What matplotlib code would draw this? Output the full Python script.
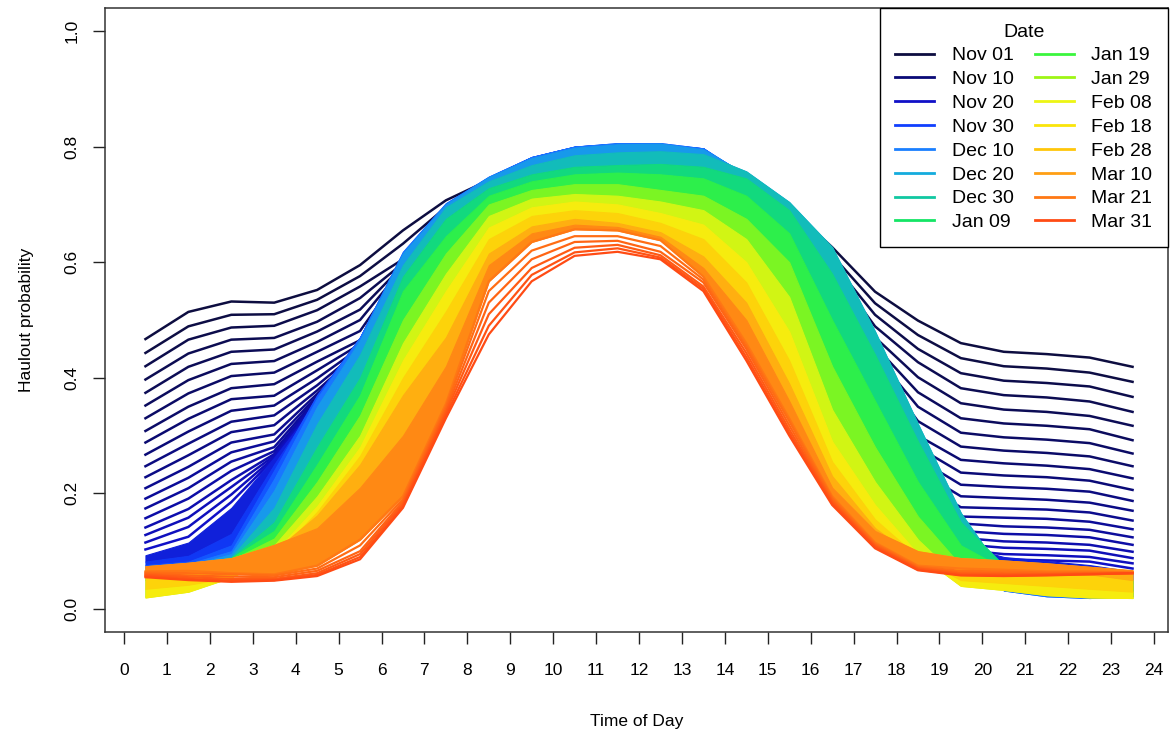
import matplotlib.pyplot as plt
import numpy as np
from matplotlib.colors import LinearSegmentedColormap
from matplotlib.lines import Line2D

plt.rcParams['font.family'] = ['Liberation Sans', 'DejaVu Sans']

# hour midpoints of the day
hours = np.arange(0.5, 24, 1.0)

# days counted from Nov 01; first 20 days drawn as separate lines
navy_days = list(range(20))
# one list per hour (0.5 ... 23.5), each with the value for day 0..19
navy_by_hour = [
    [0.467, 0.443, 0.420, 0.397, 0.374, 0.352, 0.330, 0.308, 0.288, 0.267, 0.247, 0.228, 0.209, 0.191, 0.174, 0.157, 0.141, 0.128, 0.115, 0.103],
    [0.514, 0.489, 0.466, 0.442, 0.419, 0.396, 0.373, 0.350, 0.329, 0.307, 0.286, 0.266, 0.246, 0.227, 0.209, 0.191, 0.173, 0.158, 0.142, 0.125],
    [0.532, 0.509, 0.487, 0.466, 0.445, 0.424, 0.403, 0.382, 0.363, 0.343, 0.324, 0.306, 0.288, 0.271, 0.255, 0.239, 0.223, 0.211, 0.198, 0.185],
    [0.530, 0.510, 0.490, 0.469, 0.449, 0.429, 0.409, 0.389, 0.369, 0.352, 0.335, 0.318, 0.302, 0.290, 0.280, 0.273, 0.268, 0.265, 0.262, 0.260],
    [0.552, 0.535, 0.517, 0.497, 0.480, 0.462, 0.445, 0.428, 0.413, 0.399, 0.387, 0.378, 0.372, 0.368, 0.365, 0.362, 0.360, 0.358, 0.356, 0.355],
    [0.595, 0.576, 0.558, 0.538, 0.518, 0.500, 0.481, 0.465, 0.458, 0.452, 0.448, 0.445, 0.443, 0.441, 0.440, 0.439, 0.438, 0.437, 0.436, 0.435],
    [0.655, 0.632, 0.605, 0.598, 0.594, 0.590, 0.586, 0.582, 0.578, 0.574, 0.570, 0.566, 0.562, 0.558, 0.554, 0.550, 0.546, 0.542, 0.538, 0.534],
    [0.707, 0.695, 0.688, 0.684, 0.680, 0.677, 0.674, 0.671, 0.668, 0.665, 0.662, 0.660, 0.658, 0.656, 0.654, 0.652, 0.650, 0.648, 0.646, 0.644],
    [0.742, 0.738, 0.735, 0.732, 0.730, 0.728, 0.726, 0.724, 0.722, 0.720, 0.718, 0.716, 0.714, 0.712, 0.710, 0.708, 0.706, 0.704, 0.702, 0.700],
    [0.775, 0.772, 0.770, 0.768, 0.766, 0.764, 0.762, 0.760, 0.758, 0.756, 0.754, 0.752, 0.750, 0.748, 0.746, 0.744, 0.742, 0.740, 0.738, 0.736],
    [0.792, 0.790, 0.788, 0.786, 0.784, 0.782, 0.780, 0.778, 0.776, 0.774, 0.772, 0.770, 0.768, 0.766, 0.764, 0.762, 0.760, 0.758, 0.756, 0.754],
    [0.798, 0.796, 0.794, 0.792, 0.790, 0.788, 0.786, 0.784, 0.782, 0.780, 0.778, 0.776, 0.774, 0.772, 0.770, 0.768, 0.766, 0.764, 0.762, 0.760],
    [0.798, 0.796, 0.794, 0.792, 0.790, 0.788, 0.786, 0.784, 0.782, 0.780, 0.778, 0.776, 0.774, 0.772, 0.770, 0.768, 0.766, 0.764, 0.762, 0.760],
    [0.788, 0.786, 0.784, 0.782, 0.780, 0.778, 0.776, 0.774, 0.772, 0.770, 0.768, 0.766, 0.764, 0.762, 0.760, 0.758, 0.756, 0.754, 0.752, 0.750],
    [0.748, 0.746, 0.744, 0.742, 0.740, 0.738, 0.736, 0.734, 0.732, 0.730, 0.728, 0.726, 0.724, 0.722, 0.720, 0.718, 0.716, 0.714, 0.712, 0.710],
    [0.695, 0.690, 0.685, 0.680, 0.675, 0.670, 0.665, 0.660, 0.655, 0.650, 0.645, 0.640, 0.635, 0.630, 0.625, 0.620, 0.615, 0.610, 0.605, 0.600],
    [0.626, 0.612, 0.600, 0.590, 0.580, 0.570, 0.560, 0.550, 0.540, 0.530, 0.520, 0.510, 0.500, 0.490, 0.480, 0.470, 0.460, 0.450, 0.440, 0.430],
    [0.549, 0.529, 0.509, 0.489, 0.470, 0.455, 0.440, 0.425, 0.410, 0.395, 0.380, 0.365, 0.350, 0.335, 0.320, 0.305, 0.290, 0.275, 0.260, 0.245],
    [0.499, 0.474, 0.450, 0.427, 0.401, 0.375, 0.350, 0.325, 0.300, 0.280, 0.260, 0.240, 0.220, 0.200, 0.185, 0.170, 0.160, 0.150, 0.140, 0.130],
    [0.460, 0.434, 0.408, 0.382, 0.356, 0.330, 0.305, 0.281, 0.258, 0.236, 0.215, 0.195, 0.176, 0.160, 0.148, 0.135, 0.123, 0.112, 0.102, 0.095],
    [0.445, 0.420, 0.395, 0.370, 0.345, 0.321, 0.297, 0.274, 0.252, 0.231, 0.211, 0.192, 0.174, 0.158, 0.143, 0.130, 0.117, 0.106, 0.095, 0.086],
    [0.441, 0.416, 0.391, 0.366, 0.341, 0.317, 0.293, 0.270, 0.248, 0.228, 0.208, 0.189, 0.172, 0.156, 0.141, 0.128, 0.115, 0.104, 0.093, 0.084],
    [0.435, 0.409, 0.385, 0.359, 0.334, 0.311, 0.287, 0.264, 0.242, 0.222, 0.203, 0.184, 0.167, 0.151, 0.137, 0.124, 0.111, 0.101, 0.090, 0.082],
    [0.419, 0.393, 0.367, 0.341, 0.317, 0.292, 0.269, 0.247, 0.226, 0.206, 0.187, 0.170, 0.153, 0.138, 0.124, 0.111, 0.099, 0.088, 0.079, 0.070],
]

# later days: dense band, one row per day (hours 0.5 ... 23.5)
band_days = [20, 25, 30, 35, 40, 50, 60, 70, 80, 90, 100, 110, 120, 130, 140]
band_curves = [
    [0.093, 0.115, 0.175, 0.262, 0.357, 0.440, 0.570, 0.680, 0.735, 0.770, 0.785, 0.790, 0.790, 0.780, 0.735, 0.620, 0.480, 0.340, 0.200, 0.110, 0.090, 0.083, 0.076, 0.065],
    [0.082, 0.092, 0.130, 0.250, 0.360, 0.460, 0.600, 0.695, 0.745, 0.778, 0.795, 0.800, 0.800, 0.790, 0.740, 0.640, 0.520, 0.370, 0.220, 0.100, 0.060, 0.050, 0.045, 0.045],
    [0.076, 0.082, 0.110, 0.240, 0.370, 0.470, 0.615, 0.700, 0.747, 0.782, 0.800, 0.805, 0.804, 0.797, 0.745, 0.660, 0.550, 0.400, 0.240, 0.100, 0.035, 0.025, 0.022, 0.028],
    [0.073, 0.078, 0.100, 0.225, 0.365, 0.470, 0.618, 0.702, 0.748, 0.782, 0.800, 0.806, 0.806, 0.797, 0.750, 0.675, 0.570, 0.420, 0.260, 0.120, 0.032, 0.022, 0.019, 0.022],
    [0.071, 0.075, 0.095, 0.205, 0.350, 0.465, 0.615, 0.700, 0.747, 0.780, 0.798, 0.804, 0.805, 0.795, 0.752, 0.690, 0.600, 0.450, 0.290, 0.140, 0.040, 0.030, 0.028, 0.028],
    [0.068, 0.073, 0.090, 0.175, 0.320, 0.440, 0.595, 0.695, 0.740, 0.768, 0.785, 0.790, 0.792, 0.787, 0.757, 0.704, 0.626, 0.480, 0.320, 0.166, 0.060, 0.050, 0.045, 0.040],
    [0.066, 0.072, 0.088, 0.150, 0.280, 0.400, 0.575, 0.675, 0.728, 0.752, 0.765, 0.768, 0.770, 0.765, 0.745, 0.690, 0.580, 0.440, 0.290, 0.150, 0.075, 0.065, 0.060, 0.050],
    [0.062, 0.070, 0.088, 0.135, 0.250, 0.370, 0.550, 0.645, 0.715, 0.740, 0.752, 0.755, 0.752, 0.745, 0.715, 0.650, 0.500, 0.360, 0.220, 0.110, 0.070, 0.060, 0.055, 0.045],
    [0.050, 0.062, 0.085, 0.122, 0.220, 0.335, 0.500, 0.615, 0.700, 0.725, 0.735, 0.735, 0.725, 0.715, 0.675, 0.600, 0.420, 0.280, 0.160, 0.075, 0.055, 0.045, 0.040, 0.030],
    [0.022, 0.035, 0.065, 0.110, 0.195, 0.300, 0.460, 0.580, 0.680, 0.710, 0.718, 0.715, 0.705, 0.690, 0.640, 0.540, 0.345, 0.220, 0.120, 0.050, 0.040, 0.030, 0.025, 0.020],
    [0.020, 0.030, 0.055, 0.097, 0.178, 0.280, 0.430, 0.550, 0.660, 0.695, 0.705, 0.700, 0.685, 0.665, 0.600, 0.480, 0.290, 0.180, 0.095, 0.040, 0.033, 0.024, 0.020, 0.019],
    [0.035, 0.042, 0.055, 0.090, 0.168, 0.265, 0.400, 0.515, 0.640, 0.680, 0.690, 0.685, 0.668, 0.640, 0.565, 0.430, 0.255, 0.155, 0.090, 0.050, 0.045, 0.040, 0.035, 0.030],
    [0.055, 0.060, 0.070, 0.100, 0.162, 0.250, 0.370, 0.470, 0.615, 0.662, 0.675, 0.668, 0.652, 0.610, 0.530, 0.390, 0.230, 0.140, 0.085, 0.070, 0.070, 0.065, 0.060, 0.050],
    [0.074, 0.080, 0.088, 0.111, 0.140, 0.210, 0.300, 0.420, 0.595, 0.650, 0.665, 0.661, 0.644, 0.590, 0.500, 0.360, 0.210, 0.135, 0.100, 0.088, 0.084, 0.079, 0.073, 0.067],
    [0.065, 0.066, 0.062, 0.060, 0.075, 0.120, 0.195, 0.355, 0.567, 0.635, 0.657, 0.655, 0.638, 0.575, 0.460, 0.330, 0.195, 0.115, 0.075, 0.070, 0.068, 0.065, 0.065, 0.063],
]

# last days of March, separate lines at the bottom edge
edge_days = [142, 144, 146, 148, 150]
edge_curves = [
    [0.063, 0.062, 0.060, 0.058, 0.070, 0.110, 0.190, 0.350, 0.550, 0.620, 0.645, 0.645, 0.628, 0.570, 0.455, 0.325, 0.192, 0.113, 0.073, 0.066, 0.065, 0.063, 0.063, 0.063],
    [0.061, 0.058, 0.056, 0.055, 0.066, 0.100, 0.186, 0.345, 0.530, 0.605, 0.635, 0.637, 0.618, 0.565, 0.450, 0.318, 0.189, 0.111, 0.071, 0.063, 0.062, 0.061, 0.062, 0.062],
    [0.059, 0.055, 0.052, 0.052, 0.062, 0.095, 0.182, 0.340, 0.510, 0.590, 0.625, 0.630, 0.612, 0.558, 0.443, 0.311, 0.186, 0.109, 0.070, 0.061, 0.060, 0.060, 0.061, 0.062],
    [0.057, 0.052, 0.049, 0.050, 0.059, 0.090, 0.178, 0.335, 0.490, 0.578, 0.617, 0.624, 0.608, 0.554, 0.436, 0.305, 0.183, 0.107, 0.068, 0.059, 0.058, 0.059, 0.060, 0.062],
    [0.055, 0.050, 0.047, 0.049, 0.057, 0.086, 0.175, 0.330, 0.475, 0.567, 0.611, 0.618, 0.605, 0.550, 0.430, 0.300, 0.180, 0.105, 0.067, 0.058, 0.057, 0.058, 0.060, 0.062],
]

legend_days = [0, 9, 19, 29, 39, 49, 59, 69, 79, 89, 99, 109, 119, 129, 140, 150]
legend_labels = ['Nov 01', 'Nov 10', 'Nov 20', 'Nov 30', 'Dec 10', 'Dec 20', 'Dec 30', 'Jan 09',
                 'Jan 19', 'Jan 29', 'Feb 08', 'Feb 18', 'Feb 28', 'Mar 10', 'Mar 21', 'Mar 31']
palette = ['#0d0d40', '#0a0a78', '#1010c8', '#1040ff', '#1a80ff', '#14acdc', '#10c8a0', '#14e664',
           '#3cf53c', '#a0f514', '#eef514', '#fae60a', '#ffc80a', '#ffa014', '#ff7814', '#ff4b14']

n_days = 150
cmap = LinearSegmentedColormap.from_list(
    'dates', list(zip(np.array(legend_days) / n_days, palette)))


fig = plt.figure(figsize=(11.71, 7.35), dpi=100)
ax = fig.add_axes([105 / 1171, 1 - 632 / 735, (1168 - 105) / 1171, (632 - 8) / 735])

# draw in date order: later days on top
z = 2
navy = np.array(navy_by_hour).T
for d, row in zip(navy_days, navy):
    ax.plot(hours, row, color=cmap(d / n_days), lw=1.8, zorder=z)
    z += 1

band = np.array(band_curves)
for i in range(len(band_days) - 1):
    c = cmap((band_days[i] + band_days[i + 1]) / 2 / n_days)
    ax.fill_between(hours, band[i], band[i + 1], facecolor=c, edgecolor=c, lw=0.8, zorder=z)
    z += 1
ax.plot(hours, band[-1], color=cmap(band_days[-1] / n_days), lw=1.6, zorder=z)
z += 1

for d, row in zip(edge_days, edge_curves):
    ax.plot(hours, row, color=cmap(d / n_days), lw=1.6, zorder=z)
    z += 1

# axes, R style
px_per_hour = (1154 - 124) / 24
ax.set_xlim((105 - 124) / px_per_hour, (1168 - 124) / px_per_hour)
ax.set_ylim(-0.0398, 1.0398)
ax.set_xticks(range(25))
ax.set_yticks([0.0, 0.2, 0.4, 0.6, 0.8, 1.0])
ax.set_yticklabels(['0.0', '0.2', '0.4', '0.6', '0.8', '1.0'], rotation=90, va='center')
ax.tick_params(direction='out', length=8.5, width=1, labelsize=12.5, color='#222222')
ax.tick_params(axis='x', pad=14)
ax.tick_params(axis='y', pad=10)
for s in ax.spines.values():
    s.set_linewidth(1.1)
    s.set_color('#333333')

ax.set_xlabel('Time of Day', fontsize=12.5, labelpad=26)
ax.set_ylabel('Haulout probability', fontsize=12.5, labelpad=22)

handles = [Line2D([], [], color=cmap(d / n_days), lw=2) for d in legend_days]
leg = ax.legend(handles, legend_labels, ncol=2, title='Date', loc='upper right',
                borderaxespad=0, fontsize=14, title_fontsize=14, fancybox=False,
                edgecolor='black', framealpha=1, handlelength=2.0, handletextpad=0.9,
                columnspacing=1.1, labelspacing=0.32, borderpad=0.8)
leg.get_frame().set_linewidth(1.0)
leg.set_zorder(500)

plt.savefig('out.png', dpi=100)
